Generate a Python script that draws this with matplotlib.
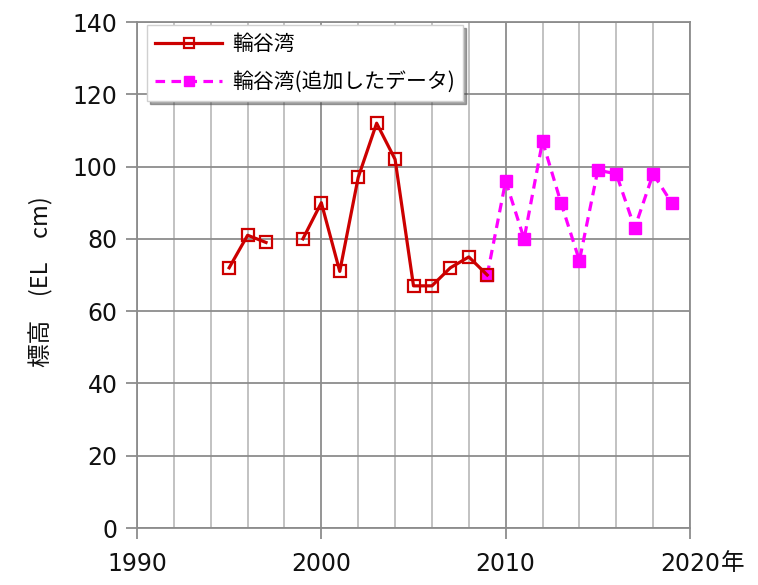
import matplotlib
matplotlib.use("Agg")
import matplotlib.pyplot as plt
import numpy as np

plt.rcParams['font.family'] = ['Noto Sans CJK JP', 'DejaVu Sans']

years_a = [1995, 1996, 1997, 1998, 1999, 2000, 2001, 2002, 2003, 2004, 2005, 2006, 2007, 2008, 2009]
vals_a = [72, 81, 79, np.nan, 80, 90, 71, 97, 112, 102, 67, 67, 72, 75, 70]
years_b = [2009, 2010, 2011, 2012, 2013, 2014, 2015, 2016, 2017, 2018, 2019]
vals_b = [70, 96, 80, 107, 90, 74, 99, 98, 83, 98, 90]
label_a = "輪谷湾"
label_b = "輪谷湾(追加したデータ)"
xticks = [1990, 2000, 2010, 2020]
yticks = [0, 20, 40, 60, 80, 100, 120, 140]

fig = plt.figure(figsize=(7.58, 5.85), dpi=100)
ax = fig.add_axes([137/758, 1-528/585, (690-137)/758, (528-22)/585])

ax.set_xlim(1990, 2020)
ax.set_ylim(0, 140)
ax.set_xticks(xticks)
ax.set_xticks(np.arange(1990, 2021, 2), minor=True)
ax.set_yticks(yticks)
ax.grid(which='major', axis='x', color='#8c8c8c', lw=1.3)
ax.grid(which='minor', axis='x', color='#bdbdbd', lw=1.3)
ax.grid(which='major', axis='y', color='#8c8c8c', lw=1.3)
ax.set_axisbelow(True)
for s in ax.spines.values():
    s.set_color('#8c8c8c')
    s.set_linewidth(1.3)
ax.tick_params(axis='both', which='major', length=8, width=1.3, color='#8c8c8c',
               labelsize=17, labelcolor='#111111')
ax.tick_params(axis='x', which='minor', length=0)
ax.tick_params(axis='x', pad=9)
ax.tick_params(axis='y', pad=6)
for t in ax.get_xticklabels() + ax.get_yticklabels():
    t.set_family('DejaVu Sans')

lb, = ax.plot(years_b, vals_b, color='#ff00ff', ls=(0, (3, 2)), lw=2.3, marker='s',
              ms=9, mfc='#ff00ff', mec='#ff00ff', label=label_b)
la, = ax.plot(years_a, vals_a, color='#cc0000', lw=2.3, marker='s', ms=9,
              mfc='none', mec='#cc0000', mew=1.6, label=label_a)

leg = ax.legend(handles=[la, lb], loc='upper left', bbox_to_anchor=(0.018, 0.994),
                borderaxespad=0, fontsize=15, frameon=True, fancybox=False, shadow=True,
                handlelength=3.2, borderpad=0.4, labelspacing=0.75, markerscale=0.85,
                handletextpad=0.5)
leg.get_frame().set_edgecolor('#d0d0d0')
leg.get_frame().set_linewidth(1.0)

fig.text(41/758, 1-282/585, "標高　(EL　cm)", rotation=90, ha='center', va='center',
         fontsize=17, color='#111111')
fig.text(733/758, 1-564/585, "年", ha='center', va='center', fontsize=17, color='#111111')

fig.savefig("out.png", dpi=100)
